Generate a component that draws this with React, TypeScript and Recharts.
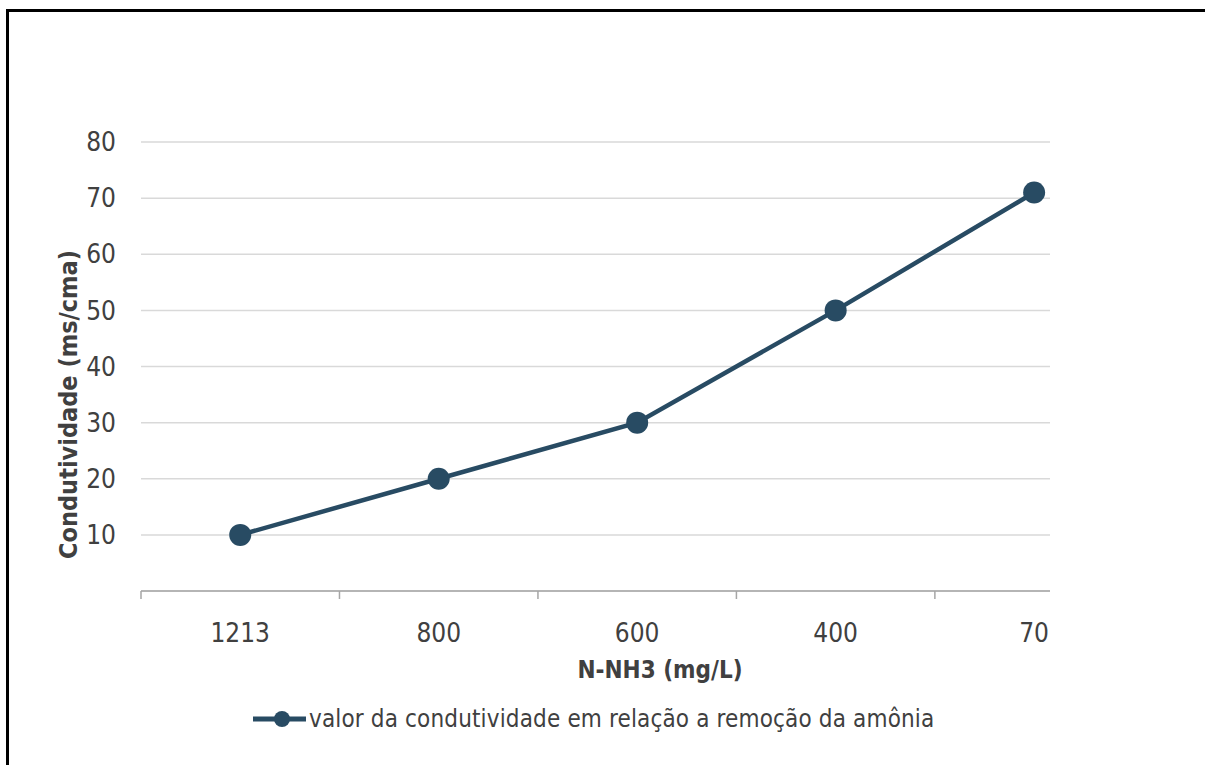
import { LineChart, Line, XAxis, YAxis, CartesianGrid } from 'recharts';

// concentração de N-NH3 (mg/L) em cada coleta
const categorias = ['1213', '800', '600', '400', '70'];
// condutividade medida (ms/cma)
const condutividade = [10, 20, 30, 50, 71];
const yTicks = [10, 20, 30, 40, 50, 60, 70, 80];
// marcas inteiras = rótulos, marcas de meio = divisões entre categorias
const xTicks = [-0.5, 0, 0.5, 1, 1.5, 2, 2.5, 3, 3.5, 4];

const serieNome = 'valor da condutividade em relação a remoção da amônia';

const data = categorias.map((nome, i) => ({ pos: i, nome, valor: condutividade[i] }));

const COR = '#284b63';
const FONTE = "'Liberation Sans Narrow', 'DejaVu Sans Condensed', 'Liberation Sans', sans-serif";
const TEXTO = '#404040';

const XTick = (props: any) => {
  const { x, y, payload } = props;
  const v = payload.value;
  if (Number.isInteger(v)) {
    return (
      <text x={x} y={y + 51} textAnchor="middle" fill={TEXTO} fontSize={26} fontFamily={FONTE}>
        {categorias[v]}
      </text>
    );
  }
  return <line x1={x} x2={x} y1={y} y2={y + 8} stroke="#a6a6a6" strokeWidth={1.5} />;
};

const TituloY = (props: any) => {
  const { viewBox } = props;
  const cx = viewBox.x - 13;
  const cy = viewBox.y + viewBox.height / 2 + 38;
  return (
    <text
      x={cx}
      y={cy}
      transform={`rotate(-90, ${cx}, ${cy})`}
      textAnchor="middle"
      dominantBaseline="central"
      fill={TEXTO}
      fontSize={25}
      fontWeight="bold"
      fontFamily={FONTE}
    >
      Condutividade (ms/cma)
    </text>
  );
};

const TituloX = (props: any) => {
  const { viewBox } = props;
  return (
    <text
      x={viewBox.x + 519}
      y={viewBox.y + 87}
      textAnchor="middle"
      fill={TEXTO}
      fontSize={24}
      fontWeight="bold"
      fontFamily={FONTE}
    >
      N-NH3 (mg/L)
    </text>
  );
};

export default function App() {
  return (
    <div style={{ position: 'absolute', left: 0, top: 0, width: 1205, height: 765, background: '#fff', overflow: 'hidden' }}>
      <div
        style={{
          position: 'absolute',
          left: 6,
          top: 9,
          width: 1199,
          height: 756,
          borderTop: '3px solid #000',
          borderLeft: '3px solid #000',
        }}
      />
      <LineChart
        width={1205}
        height={765}
        data={data}
        margin={{ top: 142, right: 155, bottom: 114, left: 81 }}
        style={{ position: 'absolute', left: 0, top: 0 }}
      >
        <CartesianGrid vertical={false} stroke="#d9d9d9" strokeWidth={1.5} />
        <XAxis
          dataKey="pos"
          type="number"
          domain={[-0.5, 4.08]}
          allowDataOverflow
          ticks={xTicks}
          interval={0}
          tick={<XTick />}
          tickLine={false}
          tickSize={0}
          tickMargin={0}
          axisLine={{ stroke: '#a6a6a6', strokeWidth: 1.5 }}
          height={60}
          label={<TituloX />}
        />
        <YAxis
          type="number"
          domain={[0, 80]}
          ticks={yTicks}
          interval={0}
          axisLine={false}
          tickLine={false}
          tickSize={0}
          tickMargin={25}
          width={60}
          tick={{ fill: TEXTO, fontSize: 26, fontFamily: FONTE }}
          label={<TituloY />}
        />
        <Line
          dataKey="valor"
          name={serieNome}
          stroke={COR}
          strokeWidth={4.5}
          dot={{ r: 11, fill: COR, stroke: COR, strokeWidth: 0 }}
          activeDot={false}
          isAnimationActive={false}
        />
      </LineChart>
      <div
        style={{
          position: 'absolute',
          left: 253,
          top: 703,
          display: 'flex',
          alignItems: 'center',
          fontFamily: FONTE,
          fontSize: 24,
          color: TEXTO,
          whiteSpace: 'nowrap',
        }}
      >
        <svg width={56} height={32}>
          <line x1={0} x2={53} y1={16} y2={16} stroke={COR} strokeWidth={5} />
          <circle cx={29} cy={16} r={8} fill={COR} />
        </svg>
        <span style={{ letterSpacing: 0.15 }}>{serieNome}</span>
      </div>
    </div>
  );
}
